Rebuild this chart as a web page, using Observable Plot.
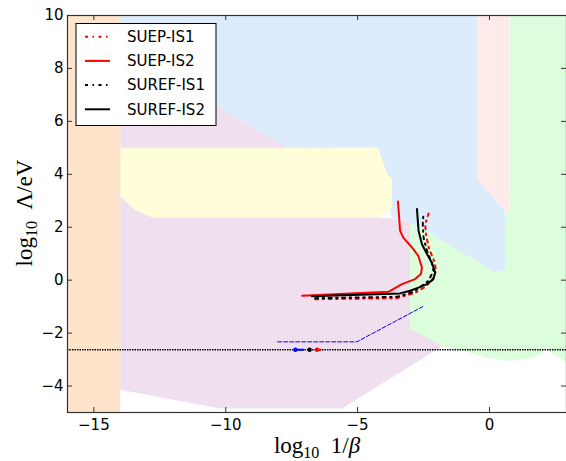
<!DOCTYPE html>
<html>
<head>
<meta charset="utf-8">
<script src="https://cdn.jsdelivr.net/npm/d3@7"></script>
<script src="https://cdn.jsdelivr.net/npm/@observablehq/plot@0.6"></script>
<style>
  body { margin: 0; background: #fff; }
  svg { display: block; }
</style>
</head>
<body>
<script>
// ---- Axis ticks ----
const xTicks = [-15, -10, -5, 0];
const yTicks = [-4, -2, 0, 2, 4, 6, 8, 10];

// ---- Shaded regions (log10 1/beta, log10 Lambda/eV) ----
const orangeRegion = [[-16, -5], [-14, -5], [-14, 10], [-16, 10]];
const purpleRegion = [[-14, 8.76], [-7.74, 5.04], [-4.5, 5.0], [-4.2, 2.37], [-3.72, 2.33], [-3.01, 2.24],
  [-3.01, -1.84], [-1.76, -2.48], [-5.6, -4.85], [-10.2, -4.85], [-14, -4.14]];
const greenRegion = [[0.75, 10], [3, 10], [3, -3.15], [2.30, -2.71], [2.17, -2.52], [2.03, -2.74],
  [1.65, -2.93], [0.78, -3.05], [-0.09, -2.93], [-0.73, -2.74], [-1.76, -2.48], [-3.01, -1.84],
  [-3.01, 2.21], [0.59, 2.6], [0.75, 2.6]];
const blueRegion = [[-14, 10], [-0.46, 10], [-0.46, 3.82], [0.59, 2.6], [0.59, 0.42], [0.21, 0.32],
  [-3.01, 2.21], [-3.72, 2.37], [-4.22, 5.0], [-7.74, 5.04], [-14, 8.76]];
const yellowRegion = [[-14, 5.0], [-4.22, 5.0], [-3.88, 4.02], [-3.70, 3.83], [-3.70, 2.70], [-4.22, 2.37],
  [-12.79, 2.37], [-13.45, 2.65], [-14, 3.19]];
const pinkRegion = [[-0.46, 10], [0.75, 10], [0.75, 2.56], [0.59, 2.62], [-0.46, 3.82]];

// ---- Curves ----
const suepIS2 = [[-7.10, -0.59], [-3.83, -0.44], [-3.32, -0.15], [-2.82, 0.04], [-2.60, 0.23], [-2.56, 0.48],
  [-2.70, 0.92], [-2.94, 1.24], [-3.27, 1.61], [-3.39, 1.87], [-3.47, 2.97]];
const surefIS2 = [[-6.73, -0.61], [-3.39, -0.50], [-3.01, -0.40], [-2.69, -0.28], [-2.37, -0.15], [-2.125, 0.04],
  [-2.06, 0.29], [-2.19, 0.67], [-2.37, 0.99], [-2.56, 1.36], [-2.69, 1.87], [-2.75, 2.69]];
const surefIS1 = [[-6.61, -0.68], [-3.51, -0.63], [-2.88, -0.44], [-2.56, -0.21], [-2.31, -0.02], [-2.125, 0.355],
  [-2.19, 0.67], [-2.37, 1.11], [-2.50, 1.61], [-2.53, 2.12], [-2.50, 2.56]];
const suepIS1 = [[-6.61, -0.72], [-3.51, -0.68], [-2.82, -0.48], [-2.44, -0.25], [-2.17, 0.01], [-2.02, 0.36],
  [-2.10, 0.73], [-2.29, 1.19], [-2.40, 1.68], [-2.44, 2.10], [-2.31, 2.52]];
const blueDashed = [[-8.03, -2.33], [-5.03, -2.33], [-2.53, -1.0]];
const horizontalLevel = -2.63;
const blueSegment = [[-7.36, -2.63], [-7.06, -2.63]];
const redSegment = [[-6.54, -2.63], [-6.40, -2.63]];
const markerPoints = [
  {x: -7.36, y: -2.63, c: "blue"},
  {x: -6.82, y: -2.63, c: "black"},
  {x: -6.54, y: -2.63, c: "red"}
];

// ---- Legend ----
const legendLabels = ["SUEP-IS1", "SUEP-IS2", "SUREF-IS1", "SUREF-IS2"];
const legendColors = ["red", "red", "black", "black"];
const dashDot = "3,4.5,1.5,4.5";
const legendDash = [dashDot, null, dashDot, null];

const minus = d => (d < 0 ? "\u2212" + Math.abs(d) : String(d));
const poly = (data, fill) => Plot.line(data, {x: d => d[0], y: d => d[1], fill, stroke: "none", clip: true});
const path = (data, opts) => Plot.line(data, {x: d => d[0], y: d => d[1], clip: true, ...opts});

const W = 566, H = 461;
const chart = Plot.plot({
  width: W,
  height: H,
  marginLeft: 67,
  marginRight: 0,
  marginTop: 15,
  marginBottom: 49,
  style: {fontFamily: "DejaVu Sans", fontSize: "15px", color: "black", background: "white"},
  x: {domain: [-16, 2.92], label: null},
  y: {domain: [-5, 10], label: null},
  marks: [
    poly(purpleRegion, "#efdfef"),
    poly(greenRegion, "#dcfedc"),
    poly(blueRegion, "#dcecfd"),
    poly(yellowRegion, "#fffed9"),
    poly(pinkRegion, "#ffeaea"),
    poly(orangeRegion, "#fee4cb"),
    Plot.ruleY([horizontalLevel], {stroke: "black", strokeWidth: 1.5, strokeDasharray: "1.5,1"}),
    path(blueDashed, {stroke: "blue", strokeWidth: 1, strokeDasharray: "4,2"}),
    path(blueSegment, {stroke: "blue", strokeWidth: 2}),
    path(redSegment, {stroke: "red", strokeWidth: 2}),
    Plot.dot(markerPoints, {x: "x", y: "y", fill: "c", r: 2.2}),
    path(suepIS1, {stroke: "red", strokeWidth: 2, strokeDasharray: dashDot}),
    path(surefIS1, {stroke: "black", strokeWidth: 2, strokeDasharray: dashDot}),
    path(suepIS2, {stroke: "red", strokeWidth: 2}),
    path(surefIS2, {stroke: "black", strokeWidth: 2}),
    // inside ticks on all four sides
    Plot.tickX(xTicks, {x: d => d, insetTop: 392, stroke: "#333"}),
    Plot.tickX(xTicks, {x: d => d, insetBottom: 392, stroke: "#333"}),
    Plot.tickY(yTicks, {y: d => d, insetRight: 494, stroke: "#333"}),
    Plot.tickY(yTicks, {y: d => d, insetLeft: 494, stroke: "#333"}),
    Plot.axisX(xTicks, {anchor: "bottom", tickSize: 0, tickPadding: 7, tickFormat: minus, fontSize: 15}),
    Plot.axisY(yTicks, {anchor: "left", tickSize: 0, tickPadding: 4, tickFormat: minus, fontSize: 15}),
    Plot.frame({stroke: "#333", strokeWidth: 1.2})
  ]
});
document.body.appendChild(chart);

const svg = d3.select(chart);
// Axis labels (math style)
const serif = "'Liberation Serif', 'DejaVu Serif', serif";
const xl = svg.append("text").attr("x", 317).attr("y", 453).attr("text-anchor", "middle")
  .attr("font-family", serif).attr("font-size", 23).attr("fill", "black");
xl.append("tspan").text("log");
xl.append("tspan").attr("dy", 5).attr("font-size", 16).text("10");
xl.append("tspan").attr("dy", -5).text("\u20021/");
xl.append("tspan").attr("font-style", "italic").text("\u03B2");

const yl = svg.append("text").attr("transform", "translate(32,213) rotate(-90)").attr("text-anchor", "middle")
  .attr("font-family", serif).attr("font-size", 23).attr("fill", "black");
yl.append("tspan").text("log");
yl.append("tspan").attr("dy", 5).attr("font-size", 16).text("10");
yl.append("tspan").attr("dy", -5).text("\u2002\u039B/eV");

// Legend
const lg = svg.append("g").attr("text-anchor", "start");
lg.append("rect").attr("x", 76).attr("y", 23.5).attr("width", 140).attr("height", 102)
  .attr("fill", "white").attr("stroke", "black").attr("stroke-width", 1);
legendLabels.forEach((lab, i) => {
  const cy = 36.7 + i * 24.2;
  const ln = lg.append("line").attr("x1", 85).attr("x2", 110).attr("y1", cy).attr("y2", cy)
    .attr("stroke", legendColors[i]).attr("stroke-width", 2);
  if (legendDash[i]) ln.attr("stroke-dasharray", legendDash[i]);
  lg.append("text").attr("x", 127).attr("y", cy).attr("dy", "0.35em").attr("text-anchor", "start")
    .attr("font-family", "DejaVu Sans").attr("font-size", 15).attr("fill", "black").text(lab);
});
</script>
</body>
</html>
